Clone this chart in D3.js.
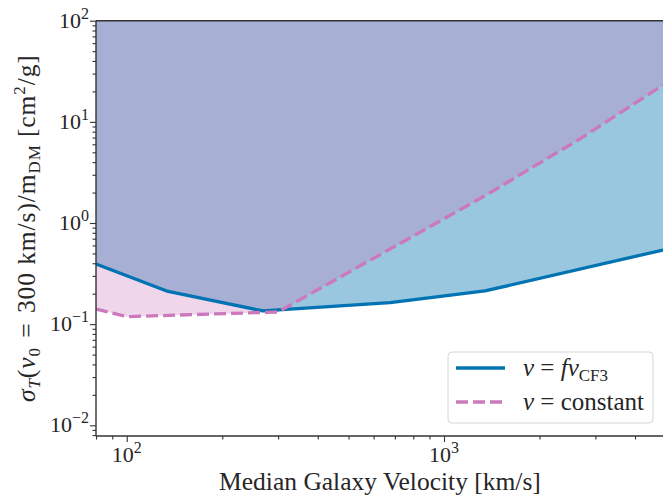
<html>
<head>
<meta charset="utf-8">
<title>sigma_T vs median galaxy velocity</title>
<script src="https://cdn.jsdelivr.net/npm/d3@7"></script>
<style>
  body { margin: 0; background: #fff; }
  text { font-family: "Liberation Serif", "DejaVu Serif", serif; fill: #262626; }
</style>
</head>
<body>
<div id="main-svg"></div>
<script>
// data
var velCF3 = [80, 135, 269, 676, 1346, 4900];
var sigmaCF3 = [0.394, 0.2105, 0.135, 0.163, 0.213, 0.541];
var velConst = [80, 100, 300, 1350, 2700, 4900];
var sigmaConst = [0.141, 0.1186, 0.132, 1.87, 6.87, 23.1];
var xMajor = [100, 1000];
var yMajor = [0.01, 0.1, 1, 10, 100];
var legendLabels = ["v = fv_CF3", "v = constant"];

var width = 663, height = 496;
var plotLeft = 96, plotRight = 663, plotTop = 20.7, plotBottom = 436;

var x = d3.scaleLog().domain([80, 4900]).range([plotLeft, plotRight]);
var y = d3.scaleLog().domain([0.00784, 100]).range([plotBottom, plotTop]);

var svg = d3.select("#main-svg").append("svg")
    .attr("width", width).attr("height", height);

svg.append("defs").append("clipPath").attr("id", "plotclip")
    .append("rect").attr("x", plotLeft).attr("y", plotTop)
    .attr("width", plotRight - plotLeft).attr("height", plotBottom - plotTop);

var cf3 = velCF3.map(function (v, i) { return [v, sigmaCF3[i]]; });
var cst = velConst.map(function (v, i) { return [v, sigmaConst[i]]; });

var area = d3.area()
    .x(function (d) { return x(d[0]); })
    .y0(function (d) { return y(100); })
    .y1(function (d) { return y(d[1]); });
var line = d3.line()
    .x(function (d) { return x(d[0]); })
    .y(function (d) { return y(d[1]); });

var g = svg.append("g").attr("clip-path", "url(#plotclip)");
// blue first, pink on top (gives the purple overlap)
g.append("path").datum(cf3).attr("d", area)
    .attr("fill", "#0173b2").attr("fill-opacity", 0.4);
g.append("path").datum(cst).attr("d", area)
    .attr("fill", "#cc78bc").attr("fill-opacity", 0.3);
g.append("path").datum(cf3).attr("d", line)
    .attr("fill", "none").attr("stroke", "#0173b2").attr("stroke-width", 3.3)
    .attr("stroke-linejoin", "round");
g.append("path").datum(cst).attr("d", line)
    .attr("fill", "none").attr("stroke", "#cc78bc").attr("stroke-width", 3.3)
    .attr("stroke-dasharray", "12,5");

// minor ticks
function minorTicks(lo, hi) {
    var out = [];
    for (var e = -3; e <= 4; e++) {
        for (var m = 2; m <= 9; m++) {
            var v = m * Math.pow(10, e);
            if (v >= lo && v <= hi) out.push(v);
        }
    }
    return out;
}

var axisColor = "#333";
var xAxis = svg.append("g").attr("transform", "translate(0," + plotBottom + ")");
xAxis.call(d3.axisBottom(x).tickValues(minorTicks(80, 4900)).tickSize(3.5).tickFormat(""));
xAxis.append("g").call(d3.axisBottom(x).tickValues(xMajor).tickSize(6).tickFormat(""));
var yAxis = svg.append("g").attr("transform", "translate(" + plotLeft + ",0)");
yAxis.call(d3.axisLeft(y).tickValues(minorTicks(0.00784, 100)).tickSize(3.5).tickFormat(""));
yAxis.append("g").call(d3.axisLeft(y).tickValues(yMajor).tickSize(6).tickFormat(""));
svg.selectAll(".domain").remove();
svg.selectAll(".tick line").attr("stroke", axisColor).attr("stroke-width", 1.1);

// spines
svg.append("line").attr("x1", plotLeft).attr("x2", plotRight).attr("y1", plotBottom).attr("y2", plotBottom)
    .attr("stroke", axisColor).attr("stroke-width", 1.4);
svg.append("line").attr("x1", plotLeft).attr("x2", plotRight).attr("y1", plotTop).attr("y2", plotTop)
    .attr("stroke", axisColor).attr("stroke-width", 1.4);
svg.append("line").attr("x1", plotLeft).attr("x2", plotLeft).attr("y1", plotTop).attr("y2", plotBottom)
    .attr("stroke", axisColor).attr("stroke-width", 1.4);

// tick labels 10^n
function expOf(v) { return Math.round(Math.log10(v)); }
xMajor.forEach(function (v) {
    var t = svg.append("text").attr("x", x(v)).attr("y", 462)
        .attr("text-anchor", "middle").style("font-size", "22px");
    t.append("tspan").text("10");
    t.append("tspan").attr("dy", -9).style("font-size", "16px").text(expOf(v));
});
yMajor.forEach(function (v) {
    var e = expOf(v);
    var t = svg.append("text").attr("x", 89).attr("y", y(v) + 7)
        .attr("text-anchor", "end").style("font-size", "22px");
    t.append("tspan").text("10");
    t.append("tspan").attr("dy", -9).style("font-size", "16px")
        .text(e < 0 ? "\u2212" + (-e) : e);
});

// axis labels
svg.append("text").attr("x", 380).attr("y", 490)
    .attr("text-anchor", "middle").style("font-size", "25.5px")
    .text("Median Galaxy Velocity [km/s]");

var yl = svg.append("text").attr("transform", "translate(35,402) rotate(-90)")
    .attr("text-anchor", "start").style("font-size", "25.5px")
    .style("letter-spacing", "0.9px");
yl.append("tspan").style("font-style", "italic").text("σ");
yl.append("tspan").attr("dy", 5).style("font-size", "17px").style("font-style", "italic").text("T");
yl.append("tspan").attr("dy", -5).text("(");
yl.append("tspan").style("font-style", "italic").text("v");
yl.append("tspan").attr("dy", 5).style("font-size", "17px").text("0");
yl.append("tspan").attr("dy", -5).text("\u2004=\u2004300 km/s)/m");
yl.append("tspan").attr("dy", 5).style("font-size", "17px").text("DM");
yl.append("tspan").attr("dy", -5).text(" [cm");
yl.append("tspan").attr("dy", -10).style("font-size", "17px").text("2");
yl.append("tspan").attr("dy", 10).text("/g]");

// legend
var lg = svg.append("g");
lg.append("rect").attr("x", 448).attr("y", 352).attr("width", 205).attr("height", 71)
    .attr("rx", 4).attr("fill", "#fff").attr("fill-opacity", 0.85)
    .attr("stroke", "#d6d6d6").attr("stroke-width", 1);
lg.append("line").attr("x1", 456).attr("x2", 505).attr("y1", 368).attr("y2", 368)
    .attr("stroke", "#0173b2").attr("stroke-width", 3.3);
lg.append("line").attr("x1", 456).attr("x2", 505).attr("y1", 402).attr("y2", 402)
    .attr("stroke", "#cc78bc").attr("stroke-width", 3.3).attr("stroke-dasharray", "12,5");

var t1 = lg.append("text").attr("x", 523).attr("y", 376).style("font-size", "25px");
t1.append("tspan").style("font-style", "italic").text("v");
t1.append("tspan").text(" = ");
t1.append("tspan").style("font-style", "italic").text("fv");
t1.append("tspan").attr("dy", 5).style("font-size", "17px").text(legendLabels[0].split("_")[1]);
var t2 = lg.append("text").attr("x", 523).attr("y", 410).style("font-size", "25px");
t2.append("tspan").style("font-style", "italic").text("v");
t2.append("tspan").text(legendLabels[1].slice(1));
</script>
</body>
</html>
